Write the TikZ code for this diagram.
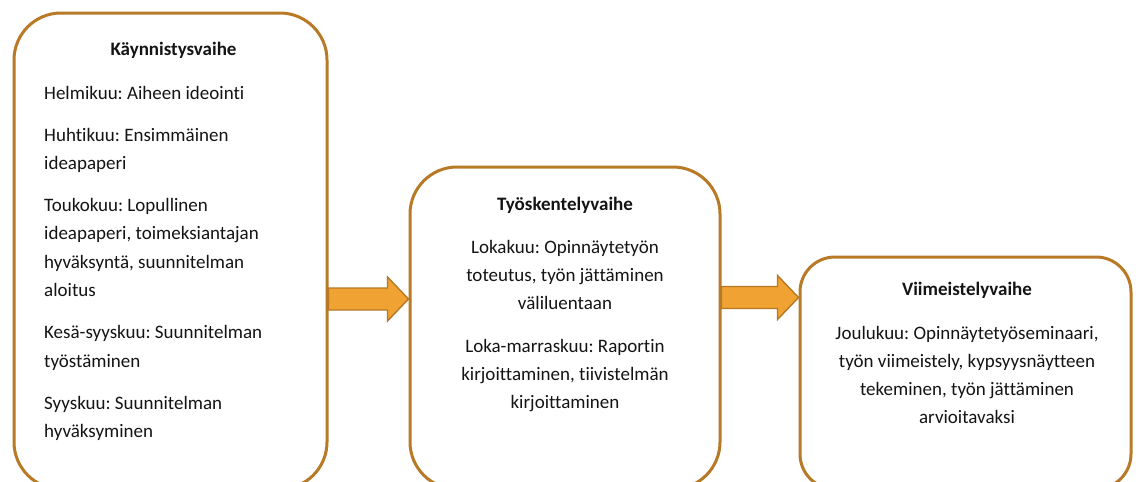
\documentclass[tikz,border=0pt]{standalone}
\usepackage{fontspec}
\setmainfont[Ligatures=NoCommon]{Carlito}
\frenchspacing
\usetikzlibrary{calc}
\definecolor{boxline}{RGB}{184,122,38}
\definecolor{arrowfill}{RGB}{240,162,50}
\definecolor{arrowline}{RGB}{182,120,36}
\definecolor{ink}{RGB}{20,20,20}
\tikzset{
  phase/.style={draw=boxline, line width=3pt, rounded corners=#1, fill=white, inner sep=0pt},
  phase/.default=47pt,
  flow/.style={draw=arrowline, fill=arrowfill, line width=1.4pt, line join=miter},
  bodytxt/.style={font=\fontsize{19}{23}\selectfont\frenchspacing, text=ink, inner sep=0pt},
  titletxt/.style={font=\fontsize{19}{23}\selectfont\bfseries, text=ink, inner sep=0pt, anchor=base},
}
\newcommand\phasearrow[2]{%
  \draw[flow] ($(#1)+(0,-11)$) -- ($(#2)+(-21,-11)$) -- ($(#2)+(-21,-22)$) -- (#2)
    -- ($(#2)+(-21,22)$) -- ($(#2)+(-21,11)$) -- ($(#1)+(0,11)$) -- cycle;}
\begin{document}
\begin{tikzpicture}[x=1pt,y=-1pt]
\useasboundingbox (0,0) rectangle (1136,482);
\clip (0,0) rectangle (1136,482);
\fill[white] (0,0) rectangle (1136,482);

% boxes
\node[phase=47pt, minimum width=313pt, minimum height=476pt] (b1) at (170.5,251) {};
\node[phase=47pt, minimum width=310pt, minimum height=322pt] (b2) at (565,328) {};
\node[phase=35pt, minimum width=331pt, minimum height=232pt] (b3) at (965.5,373) {};

% arrows
\coordinate (a1s) at (b1.east |- 0,299);
\coordinate (a1e) at (b2.west |- 0,299);
\coordinate (a2s) at (b2.east |- 0,297.5);
\coordinate (a2e) at (b3.west |- 0,297.5);
\phasearrow{a1s}{a1e}
\phasearrow{a2s}{a2e}

% box 1 text
\node[titletxt] (h1) at (173.5,55) {Käynnistysvaihe};
\foreach \y/\t [count=\i] in {
  99/{Helmikuu: Aiheen ideointi},
  141/{Huhtikuu: Ensimmäinen},
  169.4/{ideapaperi},
  211.4/{Toukokuu: Lopullinen},
  239.8/{ideapaperi, toimeksiantajan},
  268.2/{hyväksyntä, suunnitelman},
  296.6/{aloitus},
  338.6/{Kesä-syyskuu: Suunnitelman},
  367/{työstäminen},
  409/{Syyskuu: Suunnitelman},
  437.4/{hyväksyminen}}
  \node[bodytxt, anchor=base west] (k\i) at (44,\y) {\t};

% box 2 text
\node[titletxt] (h2) at (565,210) {Työskentelyvaihe};
\foreach \y/\t [count=\i] in {
  253/{Lokakuu: Opinnäytetyön},
  281.3/{toteutus, työn jättäminen},
  309.6/{väliluentaan},
  352/{Loka-marraskuu: Raportin},
  380.3/{kirjoittaminen, tiivistelmän},
  408.6/{kirjoittaminen}}
  \node[bodytxt, anchor=base] (w\i) at (565,\y) {\t};

% box 3 text
\node[titletxt] (h3) at (967,295) {Viimeistelyvaihe};
\foreach \y/\t [count=\i] in {
  339/{Joulukuu: Opinnäytetyöseminaari,},
  367/{työn viimeistely, kypsyysnäytteen},
  395/{tekeminen, työn jättäminen},
  423/{arvioitavaksi}}
  \node[bodytxt, anchor=base] (v\i) at (967,\y) {\t};
\end{tikzpicture}
\end{document}
